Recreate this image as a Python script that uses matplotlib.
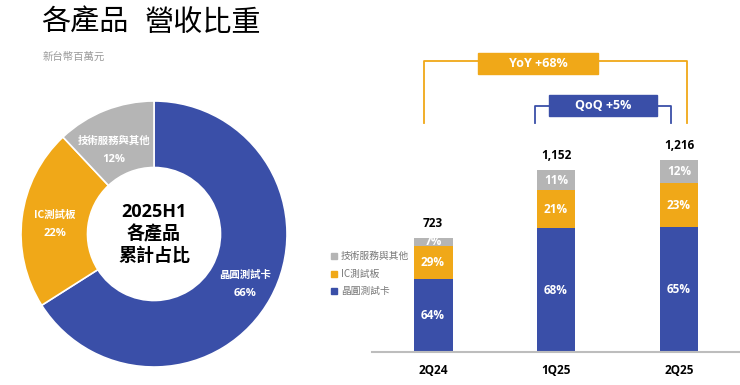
import matplotlib
matplotlib.use("Agg")
import matplotlib.pyplot as plt
import numpy as np
from matplotlib.patches import Rectangle

plt.rcParams['font.family'] = ['Open Sans', 'Noto Sans CJK TC', 'DejaVu Sans']

# ---- data ----
products = ['晶圓測試卡', 'IC測試板', '技術服務與其他']
h1_share = [66, 22, 12]
quarters = ['2Q24', '1Q25', '2Q25']
totals = [723, 1152, 1216]
probe_pct = [64, 68, 65]
ic_pct = [29, 21, 23]
other_pct = [7, 11, 12]
yoy_label = 'YoY +68%'
qoq_label = 'QoQ +5%'
title_parts = ['各產品', '營收比重']

BLUE = '#3a4fa8'
ORANGE = '#f0a818'
GRAY = '#b5b5b5'
colors = [BLUE, ORANGE, GRAY]

W, H = 740, 385
fig = plt.figure(figsize=(W / 100, H / 100), dpi=100)

def fx(px):
    return px / W

def fy(py):
    return 1 - py / H

# ---- donut ----
cx, cy, r = 154, 234, 133
axp = fig.add_axes([fx(cx - r), fy(cy + r), 2 * r / W, 2 * r / H])
axp.pie(h1_share, colors=colors, startangle=90, counterclock=False, radius=1,
        wedgeprops=dict(width=0.5, edgecolor='white', linewidth=1.2))
axp.set_xlim(-1, 1)
axp.set_ylim(-1, 1)
axp.set_aspect('equal')
axp.axis('off')
label_r = [0.78, 0.75, 0.70]
label_dang = [0, 1.5, 4.0]
cum = 0
for name, v, rr, da in zip(products, h1_share, label_r, label_dang):
    mid = np.deg2rad(90 - (cum + v / 2) / 100 * 360 + da)
    cum += v
    x, y = rr * np.cos(mid), rr * np.sin(mid)
    axp.text(x, y + 0.068, name, ha='center', va='center', color='white',
             fontsize=7.5, fontweight='bold', family=['Noto Sans CJK TC'])
    axp.text(x, y - 0.072, f'{v}%', ha='center', va='center', color='white',
             fontsize=8, fontweight='bold')
axp.text(0, 0.0, '2025H1\n各產品\n累計占比', ha='center', va='center',
         fontsize=13, fontweight='bold', linespacing=1.25,
         family=['Open Sans', 'Noto Sans CJK TC'])

# ---- stacked bars ----
base_px, top_px = 352, 30
axb = fig.add_axes([fx(372), fy(base_px), fx(740) - fx(372), (base_px - top_px) / H])
xs = np.arange(len(quarters))
probe = [t * p / 100 for t, p in zip(totals, probe_pct)]
ic = [t * p / 100 for t, p in zip(totals, ic_pct)]
other = [t * p / 100 for t, p in zip(totals, other_pct)]
bw = 0.317
axb.bar(xs, probe, bw, color=BLUE)
axb.bar(xs, ic, bw, bottom=probe, color=ORANGE)
axb.bar(xs, other, bw, bottom=np.add(probe, ic), color=GRAY)
for i in range(len(xs)):
    axb.text(xs[i], probe[i] / 2, f'{probe_pct[i]}%', ha='center', va='center',
             color='white', fontsize=8.5, fontweight='bold')
    axb.text(xs[i], probe[i] + ic[i] / 2, f'{ic_pct[i]}%', ha='center', va='center',
             color='white', fontsize=8.5, fontweight='bold')
    axb.text(xs[i], probe[i] + ic[i] + other[i] / 2, f'{other_pct[i]}%', ha='center',
             va='center', color='white', fontsize=8.5, fontweight='bold')
    axb.text(xs[i], totals[i] + 50, f'{totals[i]:,}', ha='center', va='bottom',
             color='black', fontsize=8.5, fontweight='bold')
axb.set_xlim(-0.496, 2.496)
axb.set_ylim(0, (base_px - top_px) * 6.33)
for s in ['top', 'right', 'left']:
    axb.spines[s].set_visible(False)
axb.spines['bottom'].set_color('#bdbdbd')
axb.spines['bottom'].set_linewidth(1.5)
axb.set_yticks([])
axb.set_xticks(xs)
axb.set_xticklabels(quarters, fontsize=8.5, fontweight='bold')
axb.tick_params(axis='x', length=0, pad=9)
axb.patch.set_alpha(0)

# ---- overlay (titles, legend, brackets) ----
ov = fig.add_axes([0, 0, 1, 1])
ov.set_xlim(0, W)
ov.set_ylim(H, 0)
ov.axis('off')
ov.patch.set_alpha(0)
ov.text(41, 23, title_parts[0], fontsize=21, va='center', ha='left',
        family=['Noto Sans CJK TC'])
ov.text(145, 23, title_parts[1], fontsize=21, va='center', ha='left',
        family=['Noto Sans CJK TC'])
ov.text(43, 57, '新台幣百萬元', fontsize=7.5, va='center', ha='left',
        color='#9a9a9a', family=['Noto Sans CJK TC'])

leg_items = [(products[2], GRAY), (products[1], ORANGE), (products[0], BLUE)]
for k, (lab, c) in enumerate(leg_items):
    yy = 256 + k * 17.5
    ov.add_patch(Rectangle((331, yy - 3), 6, 6, color=c))
    ov.text(341, yy, lab, fontsize=7, va='center', ha='left', color='#777777',
            family=['Noto Sans CJK TC'])

# YoY bracket
ov.plot([424, 424, 687, 687], [123, 61, 61, 123], color=ORANGE, lw=1.3)
ov.add_patch(Rectangle((478, 53), 120, 21, color=ORANGE, zorder=3))
ov.text(538, 63.5, yoy_label, ha='center', va='center', color='white',
        fontsize=9, fontweight='bold', zorder=4)
# QoQ bracket
ov.plot([535, 535, 671, 671], [123, 106, 106, 123], color=BLUE, lw=1.3)
ov.add_patch(Rectangle((549, 95), 108, 21, color=BLUE, zorder=3))
ov.text(603, 105.5, qoq_label, ha='center', va='center', color='white',
        fontsize=9, fontweight='bold', zorder=4)

fig.savefig('out.png', dpi=100)
